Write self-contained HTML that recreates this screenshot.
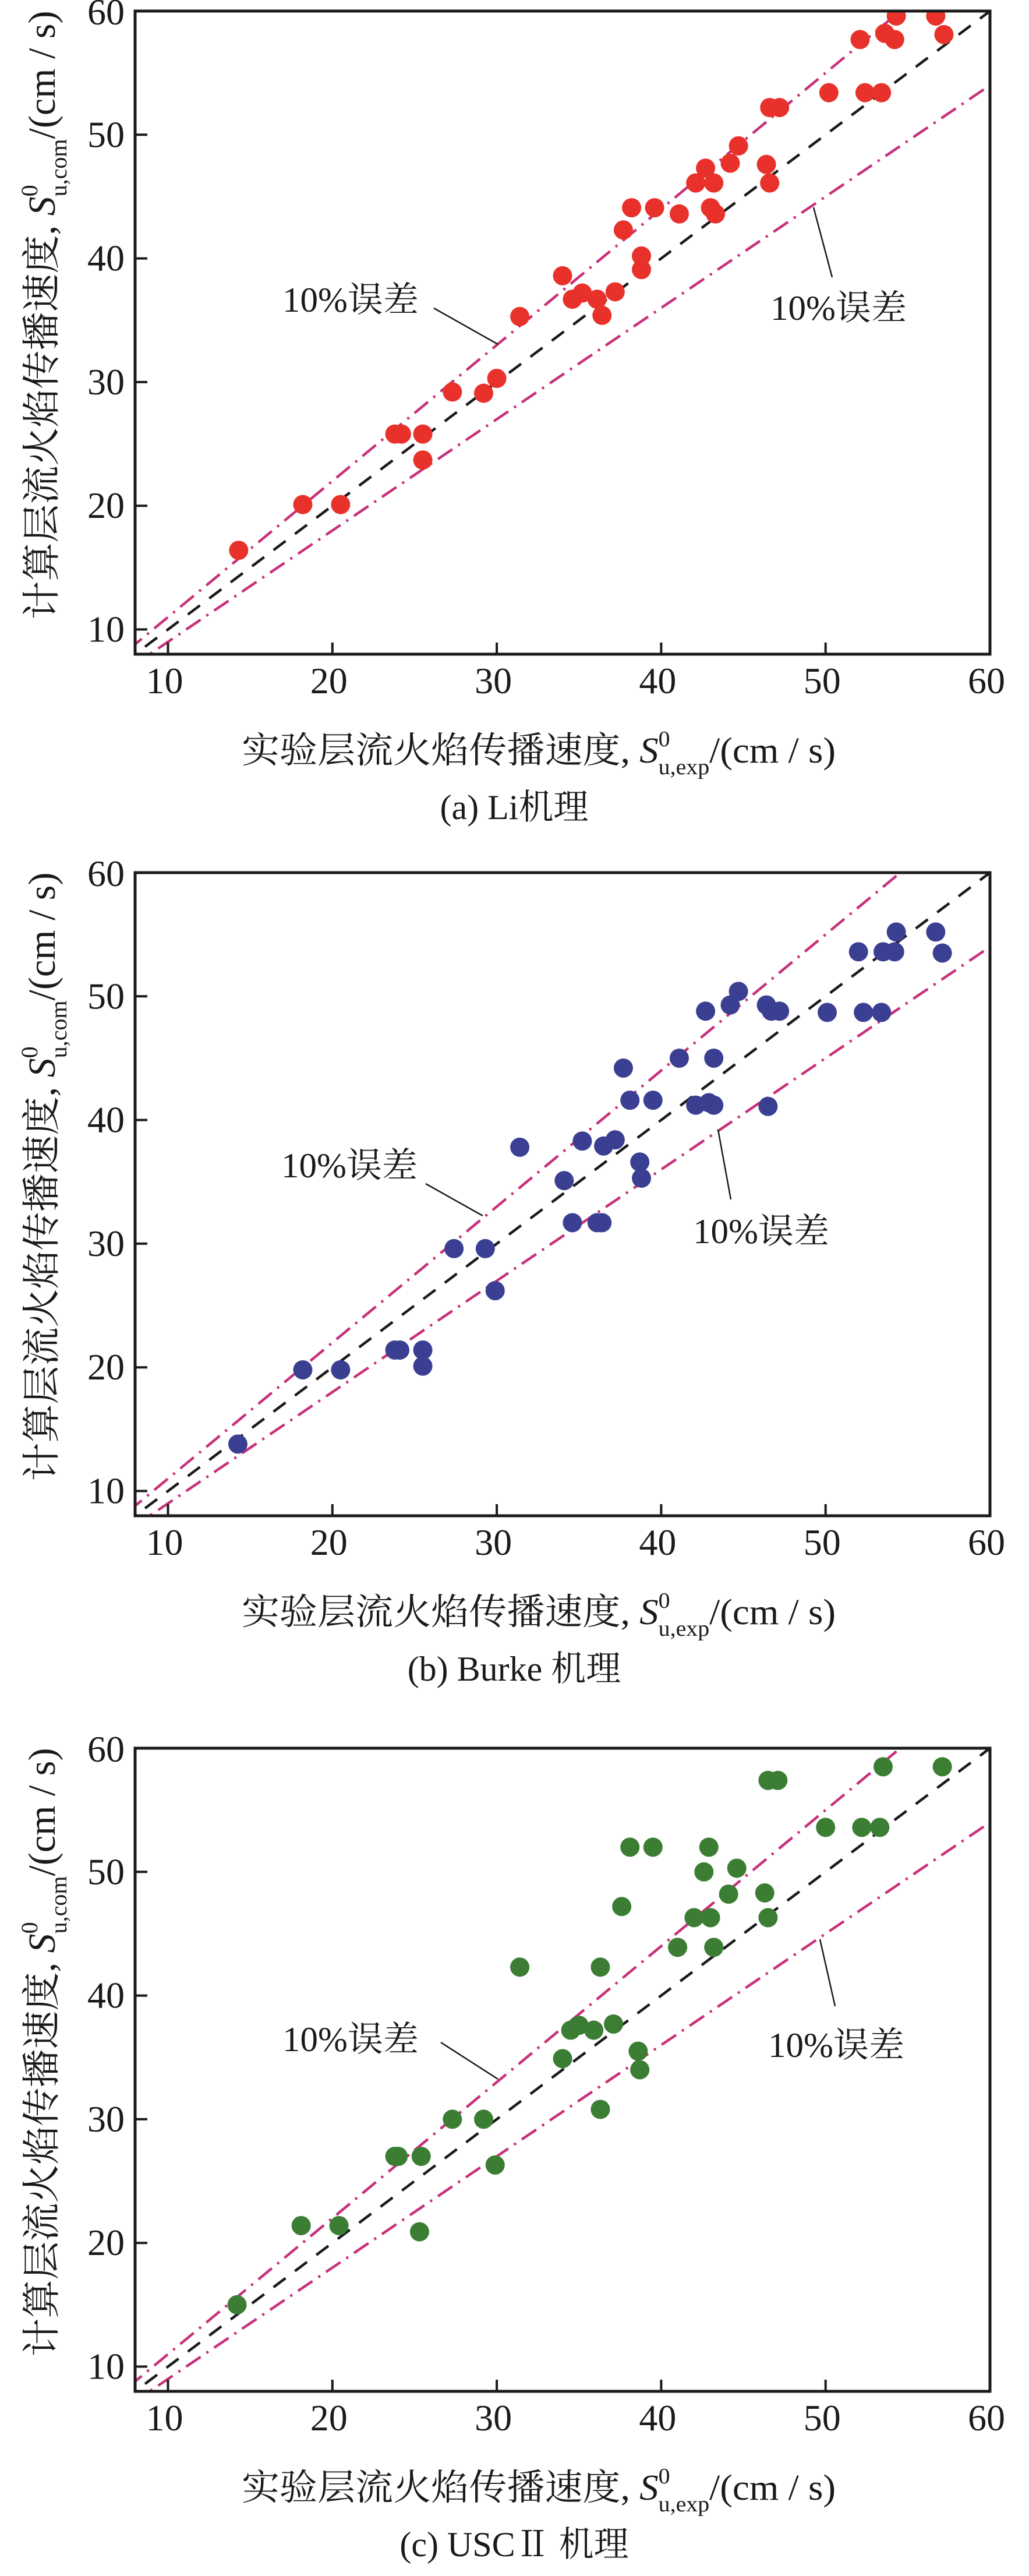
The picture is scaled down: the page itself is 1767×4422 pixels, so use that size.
<!DOCTYPE html>
<html><head><meta charset="utf-8">
<style>
html,body{margin:0;padding:0;background:#fff;}
svg{display:block;}
text{font-family:"Liberation Serif","Noto Serif CJK SC",serif;fill:#1a1a1a;}
</style></head>
<body>
<svg id="fig" width="1767" height="4422" viewBox="0 0 1767 4422" xmlns="http://www.w3.org/2000/svg"></svg>
<script>
// Shared axis data
const tickValues = [10, 20, 30, 40, 50, 60];
const errorBand = 0.1;
// Panel (a) Li mechanism
const xa = [14.3,18.2,20.5,23.8,24.2,25.5,25.5,27.3,29.2,30.0,31.4,34.0,34.6,35.2,36.1,36.4,37.2,37.7,38.2,38.8,38.8,39.6,41.1,42.1,42.7,43.2,43.0,43.3,44.2,44.7,46.4,46.6,46.6,47.2,50.2,52.1,52.4,53.4,53.6,54.2,54.3,56.7,57.2];
const ya = [16.4,20.1,20.1,25.8,25.8,25.8,23.7,29.2,29.1,30.3,35.3,38.6,36.7,37.2,36.7,35.4,37.3,42.3,44.1,40.2,39.1,44.1,43.6,46.1,47.3,46.1,44.1,43.6,47.7,49.1,47.6,46.1,52.2,52.2,53.4,57.7,53.4,53.4,58.2,57.7,59.6,59.6,58.1];
// Panel (b) Burke mechanism
const xb = [14.25,18.2,20.5,23.8,24.1,25.5,25.5,27.4,29.3,29.9,31.4,34.1,34.6,35.2,36.1,36.4,36.5,37.2,37.7,38.1,38.7,38.8,39.5,41.1,42.1,42.7,42.9,43.2,43.2,44.2,44.7,46.4,46.5,46.7,47.2,50.1,52.0,52.3,53.4,53.5,54.2,54.3,56.7,57.1];
const yb = [13.8,19.8,19.8,21.4,21.4,21.4,20.1,29.6,29.6,26.2,37.8,35.1,31.7,38.3,31.7,31.7,37.9,38.4,44.2,41.6,36.6,35.3,41.6,45.0,41.2,48.8,41.4,41.2,45.0,49.3,50.4,49.3,41.1,48.8,48.8,48.7,53.6,48.7,48.7,53.6,53.6,55.2,55.2,53.5];
// Panel (c) USC II mechanism
const xc = [14.2,18.1,20.4,23.8,24.0,25.4,25.3,27.3,29.2,29.9,31.4,34.0,34.5,35.0,35.9,36.3,36.3,37.1,37.6,38.1,38.6,38.7,39.5,41.0,42.0,42.6,42.9,43.0,43.2,44.1,44.6,46.3,46.5,46.5,47.1,50.0,52.2,53.3,53.5,57.1];
const yc = [15.0,21.4,21.4,27.0,27.0,27.0,20.9,30.0,30.0,26.3,42.3,34.9,37.2,37.6,37.2,30.8,42.3,37.7,47.2,52.0,35.5,34.0,52.0,43.9,46.3,50.0,52.0,46.3,43.9,48.2,50.3,48.3,46.3,57.4,57.4,53.6,53.6,53.6,58.5,58.5];

const NS = 'http://www.w3.org/2000/svg';
const svg = document.getElementById('fig');
function mk(tag, attrs, parent){
  const e = document.createElementNS(NS, tag);
  for (const k in attrs) e.setAttribute(k, attrs[k]);
  (parent||svg).appendChild(e);
  return e;
}
const L = 232, R = 1700, DMIN = 8, DMAX = 60;
function panel(top, xs, ys, color, id, caption, lblL, lblR){
  const bottom = top + 1104;
  const sx = v => L + (v - DMIN) / (DMAX - DMIN) * (R - L);
  const sy = v => bottom - (v - DMIN) / (DMAX - DMIN) * (bottom - top);
  const g = mk('g', {});
  
  
  const clipId = 'clip-' + id;
  const cp = mk('clipPath', {id: clipId}, g);
  mk('rect', {x: L, y: top, width: R - L, height: bottom - top}, cp);
  const lines = [[1, '#1a1a1a', '26 20', 'parity-line'], [1 + errorBand, '#c8307a', '30 12 4 12', 'upper-error-line'], [1 - errorBand, '#c8307a', '30 12 4 12', 'lower-error-line']];
  lines.forEach(([k, c, d, nm]) => {
    const ln = mk('line', {x1: sx(DMIN - 2), y1: sy((DMIN - 2) * k), x2: sx(DMAX + 2), y2: sy((DMAX + 2) * k), stroke: c, 'stroke-width': 4.5, 'stroke-dasharray': d, 'clip-path': 'url(#' + clipId + ')'}, g);
    
    
  });
  for (let i = 0; i < xs.length; i++) {
    const c = mk('circle', {cx: sx(xs[i]), cy: sy(ys[i]), r: 16.5, fill: color, 'clip-path': 'url(#' + clipId + ')'}, g);
    
    
  }
  const fr = mk('rect', {x: L, y: top, width: R - L, height: bottom - top, fill: 'none', stroke: '#1a1a1a', 'stroke-width': 5}, g);
  
  
  tickValues.forEach(v => {
    if (v < 60) {
      const t1 = mk('line', {x1: sx(v), y1: bottom, x2: sx(v), y2: bottom - 20, stroke: '#1a1a1a', 'stroke-width': 4}, g);
      
      
      const t2 = mk('line', {x1: L, y1: sy(v), x2: L + 21, y2: sy(v), stroke: '#1a1a1a', 'stroke-width': 4}, g);
      
      
    }
    const xl = mk('text', {x: sx(v) - 6, y: bottom + 67, 'font-size': 64, 'text-anchor': 'middle'}, g);
    xl.textContent = v;
    
    
    const yl = mk('text', {x: 214, y: sy(v) + (v === 60 ? 23 : 21), 'font-size': 64, 'text-anchor': 'end'}, g);
    yl.textContent = v;
    
    
  });
  const xt = mk('text', {x: 415, y: bottom + 186, 'font-size': 62, textLength: 1020, lengthAdjust: 'spacingAndGlyphs'}, g);
  
  
  xt.innerHTML = '实验层流火焰传播速度, <tspan font-style="italic">S</tspan><tspan font-size="38" dy="-28">0</tspan><tspan font-size="38" dx="-19" dy="48">u,exp</tspan><tspan dy="-20">/(cm / s)</tspan>';
  const cap = mk('text', {x: 883, y: bottom + 283, 'font-size': 60, 'text-anchor': 'middle'}, g);
  cap.textContent = caption;
  
  
  const cy = (top + bottom) / 2 - 30;
  const yt = mk('text', {x: 0, y: 0, 'font-size': 66, 'text-anchor': 'middle', transform: 'translate(94,' + cy + ') rotate(-90)', textLength: 1045, lengthAdjust: 'spacingAndGlyphs'}, g);
  
  
  yt.innerHTML = '计算层流火焰传播速度, <tspan font-style="italic">S</tspan><tspan font-size="40" dy="-30">0</tspan><tspan font-size="40" dx="-20" dy="50">u,com</tspan><tspan dy="-20">/(cm / s)</tspan>';
  [[lblL, 'left'], [lblR, 'right']].forEach(([a, side]) => {
    const t = mk('text', {x: a[0], y: a[1], 'font-size': 60, textLength: 234, lengthAdjust: 'spacingAndGlyphs'}, g);
    t.textContent = '10%误差';
    
    
    const l = mk('line', {x1: a[2], y1: a[3], x2: a[4], y2: a[5], stroke: '#1a1a1a', 'stroke-width': 2.5}, g);
    
    
  });
}
panel(19, xa, ya, '#e8312a', 'a', '(a) Li机理', [485, 535, 745, 529, 855, 591], [1323, 549, 1397, 356, 1429, 476]);
panel(1498, xb, yb, '#3b3f92', 'b', '(b) Burke 机理', [483, 2021, 731, 2032, 829, 2087], [1190, 2134, 1233, 1939, 1255, 2059]);
panel(3001, xc, yc, '#3a7d33', 'c', '(c) USCⅡ 机理', [485, 3521, 757, 3506, 855, 3569], [1319, 3531, 1408, 3329, 1434, 3444]);
</script>
</body></html>
